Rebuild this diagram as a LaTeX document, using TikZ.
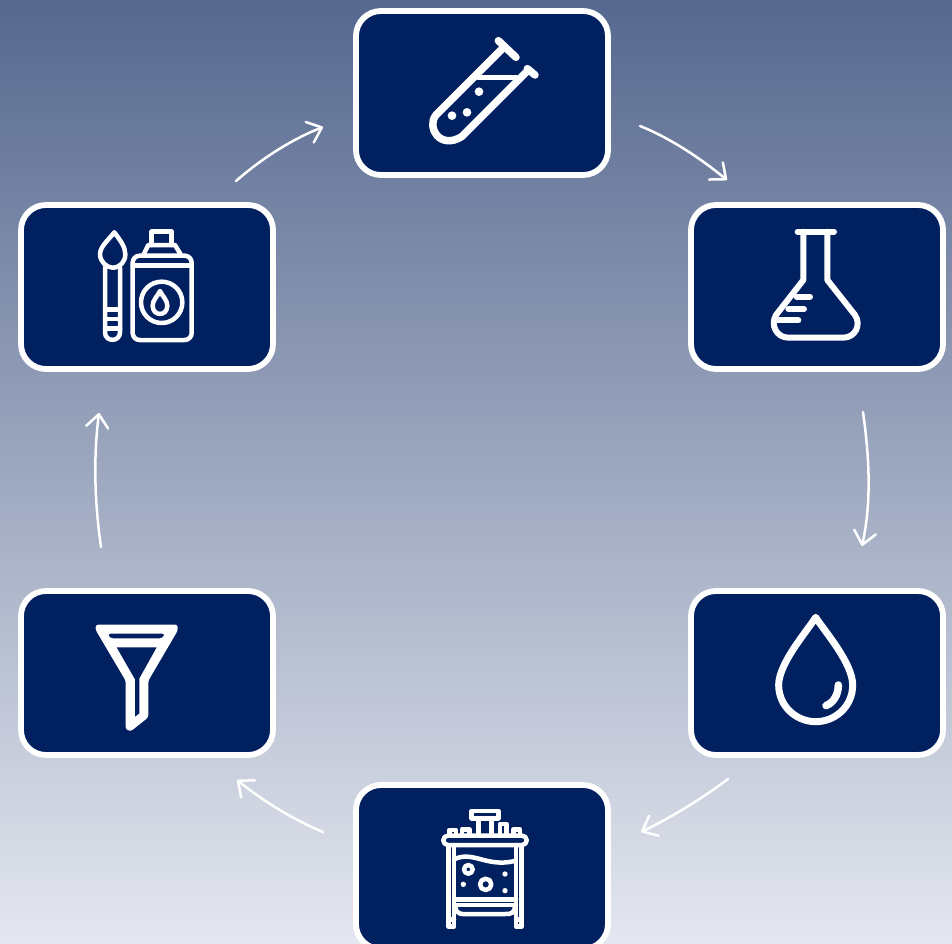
\documentclass[tikz,border=0pt]{standalone}
\usetikzlibrary{arrows.meta}
\definecolor{boxblue}{HTML}{002060}
\definecolor{bgtop}{HTML}{56688F}
\definecolor{bgbot}{HTML}{E4E7EF}
\tikzset{
  card/.style={draw=white,line width=5.8pt,fill=boxblue,rounded corners=25pt,minimum width=252pt,minimum height=164pt,inner sep=0pt,outer sep=0pt},
  flowarrow/.style={draw=white,line width=2.5pt,line cap=round,-{Straight Barb[length=13pt,width=22pt,line width=2.5pt,round]}},
  ico/.style={draw=white,line width=#1,line cap=round,line join=round},
  ico/.default=6pt
}
\begin{document}
\begin{tikzpicture}[x=1pt,y=-1pt]
\useasboundingbox (0,0) rectangle (952,943);
\clip (0,0) rectangle (952,943);
\shade[top color=bgtop,bottom color=bgbot] (0,0) rectangle (952,943);
\node[card] (top) at (482,93) {};
\node[card] (ur) at (817,287) {};
\node[card] (lr) at (817,673) {};
\node[card] (bot) at (482,867) {};
\node[card] (ll) at (147,673) {};
\node[card] (ul) at (147,287) {};
\coordinate (a1s) at (640,126); \coordinate (a1e) at (727,180);
\coordinate (a2s) at (863,412); \coordinate (a2e) at (862,546);
\coordinate (a3s) at (728,779); \coordinate (a3e) at (641,832);
\coordinate (a4s) at (323,832); \coordinate (a4e) at (237,780);
\coordinate (a5s) at (101,547); \coordinate (a5e) at (99,413);
\coordinate (a6s) at (236,181); \coordinate (a6e) at (323,127);
\draw[flowarrow] (a1s) .. controls (670,138) and (700,158) .. (a1e);
\draw[flowarrow] (a2s) .. controls (869,455) and (872,500) .. (a2e);
\draw[flowarrow] (a3s) .. controls (700,800) and (670,818) .. (a3e);
\draw[flowarrow] (a4s) .. controls (290,818) and (262,800) .. (a4e);
\draw[flowarrow] (a5s) .. controls (95,505) and (93,460) .. (a5e);
\draw[flowarrow] (a6s) .. controls (260,160) and (290,140) .. (a6e);
% test tube
\begin{scope}[shift={(410,20)},x=1/3pt,y=-1/3pt]
\draw[ico=7.5pt] (265,62) -- (318,112);
\draw[ico=7.5pt] (352,146) -- (375,165);
\draw[ico=7.5pt] (278,85) -- (78,285) .. controls (48,322) and (90,390) .. (155,350) -- (355,150);
\draw[ico=5.5pt] (205,172) -- (318,172);
\fill[white] (207,215) circle (13) (171,277) circle (13) (126,287) circle (13);
\end{scope}
% flask
\begin{scope}[shift={(750,215)},x=1/3pt,y=-1/3pt]
\draw[ico] (143,50) -- (252,50);
\draw[ico] (160,50) -- (160,195) -- (78,300) .. controls (60,330) and (80,368) .. (115,368) -- (280,368) .. controls (315,368) and (335,330) .. (315,300) -- (232,195) -- (232,50);
\draw[ico] (140,245) -- (180,245) (115,282) -- (162,282) (82,316) -- (145,316);
\end{scope}
% drop
\begin{scope}[shift={(750,600)},x=1/3pt,y=-1/3pt]
\draw[ico=7pt] (197,52) .. controls (170,95) and (86,190) .. (86,255) .. controls (86,320) and (140,365) .. (197,365) .. controls (255,365) and (308,320) .. (308,255) .. controls (308,190) and (225,95) .. (197,52) -- cycle;
\draw[ico=7.5pt] (265,255) .. controls (265,285) and (250,308) .. (228,317);
\end{scope}
% reactor
\begin{scope}[shift={(420,800)},x=1/3pt,y=-1/3pt]
\begin{scope}[ico=4.5pt]
\draw (155,33) rectangle (235,55);
\draw (176,55) -- (176,105) (214,55) -- (214,105);
\draw (88,105) -- (88,90) -- (108,90) -- (108,105);
\draw (126,105) -- (126,88) -- (148,88) -- (148,105);
\draw (240,105) -- (240,72) -- (260,72) -- (260,105);
\draw (280,105) -- (280,88) -- (300,88) -- (300,105);
\draw[rounded corners=4.5pt] (70,107) rectangle (320,135);
\draw (85,135) -- (85,380) -- (102,380) -- (102,135);
\draw (85,358) -- (102,358);
\draw (288,135) -- (288,380) -- (305,380) -- (305,135);
\draw (288,358) -- (305,358);
\draw (102,178) .. controls (160,150) and (200,205) .. (288,182);
\draw (102,298) -- (288,298) (102,315) -- (288,315);
\draw (106,318) .. controls (108,345) and (125,342) .. (140,342) -- (255,342) .. controls (275,342) and (283,340) .. (285,318);
\draw (145,208) circle (13) (197,253) circle (17);
\end{scope}
\fill[white] (255,222) circle (8) (130,253) circle (8) (255,272) circle (8);
\end{scope}
% funnel
\begin{scope}[shift={(80,610)},x=1/3pt,y=-1/3pt]
\fill[white,even odd rule,rounded corners=2.5pt] (47,44) -- (293,44) -- (293,62) -- (205,212) -- (205,322) -- (152,364) -- (137,358) -- (137,212) -- (47,60) -- cycle
 (83,71) -- (255,71) -- (247,85) -- (91,85) -- cycle;
\fill[boxblue] (110,112) -- (230,112) -- (178,205) -- (178,310) -- (165,320) -- (165,208) -- cycle;
\end{scope}
% brush and bottle
\begin{scope}[shift={(80,215)},x=1/3pt,y=-1/3pt]
\begin{scope}[ico=4.5pt]
\draw (103,52) .. controls (85,75) and (60,95) .. (60,118) .. controls (60,140) and (80,158) .. (98,158) .. controls (120,158) and (136,140) .. (136,118) .. controls (136,95) and (120,75) .. (103,52) -- cycle;
\draw (75,158) -- (75,352) .. controls (75,382) and (120,382) .. (120,352) -- (120,158);
\draw (75,284) -- (120,284) (75,312) -- (120,312) (75,340) -- (120,340);
\draw[rounded corners=7pt] (158,122) rectangle (335,375);
\draw (158,152) -- (335,152);
\draw (190,120) -- (205,90) -- (285,90) -- (303,120);
\draw (215,90) -- (215,50) -- (275,50) -- (275,90);
\draw (245,262) circle (62);
\draw (240,228) .. controls (232,245) and (218,255) .. (218,272) .. controls (218,305) and (262,305) .. (262,272) .. controls (262,255) and (248,245) .. (240,228) -- cycle;
\end{scope}
\end{scope}
\end{tikzpicture}
\end{document}
